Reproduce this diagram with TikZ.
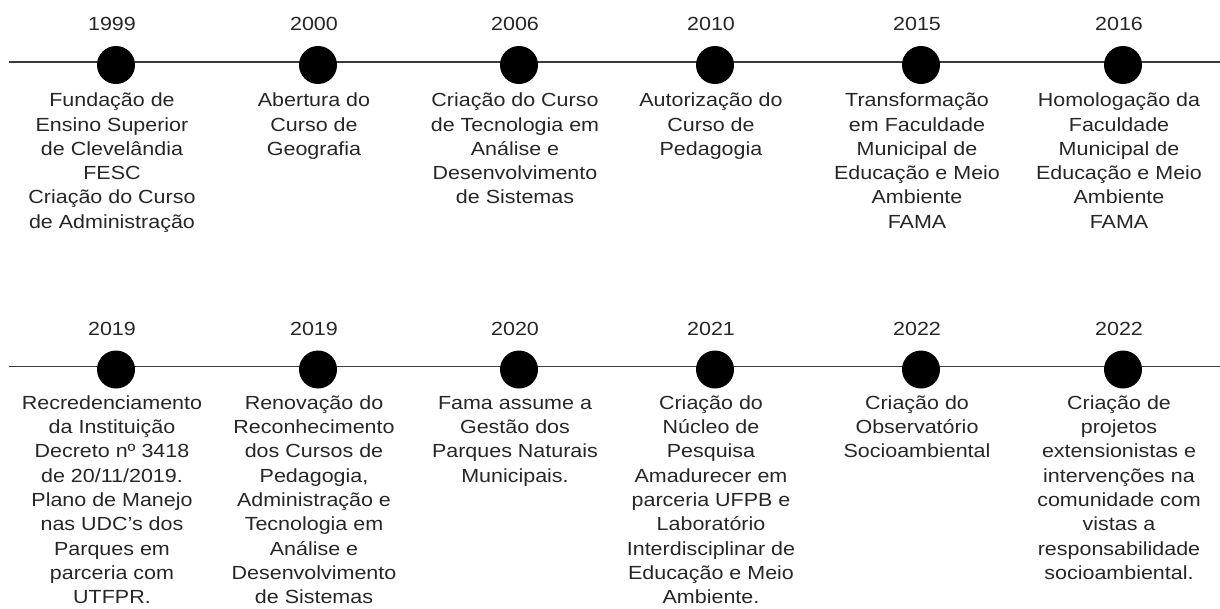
\documentclass[tikz,border=0pt]{standalone}
\usepackage{fontspec}
\setmainfont{Liberation Sans}[FakeStretch=1.13]
\definecolor{txt}{HTML}{262626}
\definecolor{ln}{HTML}{3A3A3A}
\tikzset{
  tl/.style={draw=ln, line width=1.4pt},
  dot/.style={circle, fill=black, minimum size=38pt, inner sep=0pt},
  yr/.style={text=txt, inner sep=0pt, xshift=-4pt, font=\fontsize{19}{24.3}\selectfont},
  desc/.style={text=txt, inner sep=0pt, xshift=-4pt, anchor=north, align=center, font=\fontsize{19}{24.3}\selectfont},
}
\begin{document}
\begin{tikzpicture}[x=1pt,y=-1pt]
\useasboundingbox (0,0) rectangle (1220,608);
% rows
\coordinate (Ls) at (9,62);
\coordinate (Le) at (1220,62);
\coordinate (Ms) at (9,366.5);
\coordinate (Me) at (1220,366.5);
\draw[tl] (Ls) -- (Le);
\draw[tl] (Ms) -- (Me);
% top row
\foreach \n/\x/\yr in {a/116/1999, b/318/2000, c/519/2006, d/715/2010, e/921/2015, f/1123/2016}{
  \node[dot] (d\n) at (\x,65) {};
  \node[yr] (y\n) at (\x,24) {\yr};
}
\foreach \n/\x/\yr in {g/116/2019, h/318/2019, i/519/2020, j/715/2021, k/921/2022, l/1123/2022}{
  \node[dot] (d\n) at (\x,369.5) {};
  \node[yr] (y\n) at (\x,328.5) {\yr};
}
\node[desc] (ta) at (116,89.5) {\strut Fundação de\\Ensino Superior\\de Clevelândia\\FESC\\Criação do Curso\\de Administração};
\node[desc] (tb) at (318,89.5) {\strut Abertura do\\Curso de\\Geografia};
\node[desc] (tc) at (519,89.5) {\strut Criação do Curso\\de Tecnologia em\\Análise e\\Desenvolvimento\\de Sistemas};
\node[desc] (td) at (715,89.5) {\strut Autorização do\\Curso de\\Pedagogia};
\node[desc] (te) at (921,89.5) {\strut Transformação\\em Faculdade\\Municipal de\\Educação e Meio\\Ambiente\\FAMA};
\node[desc] (tf) at (1123,89.5) {\strut Homologação da\\Faculdade\\Municipal de\\Educação e Meio\\Ambiente\\FAMA};
\node[desc] (tg) at (116,392) {\strut Recredenciamento\\da Instituição\\Decreto nº 3418\\de 20/11/2019.\\Plano de Manejo\\nas UDC’s dos\\Parques em\\parceria com\\UTFPR.};
\node[desc] (th) at (318,392) {\strut Renovação do\\Reconhecimento\\dos Cursos de\\Pedagogia,\\Administração e\\Tecnologia em\\Análise e\\Desenvolvimento\\de Sistemas};
\node[desc] (ti) at (519,392) {\strut Fama assume a\\Gestão dos\\Parques Naturais\\Municipais.};
\node[desc] (tj) at (715,392) {\strut Criação do\\Núcleo de\\Pesquisa\\Amadurecer em\\parceria UFPB e\\Laboratório\\Interdisciplinar de\\Educação e Meio\\Ambiente.};
\node[desc] (tk) at (921,392) {\strut Criação do\\Observatório\\Socioambiental};
\node[desc] (tl) at (1123,392) {\strut Criação de\\projetos\\extensionistas e\\intervenções na\\comunidade com\\vistas a\\responsabilidade\\socioambiental.};
\end{tikzpicture}
\end{document}
